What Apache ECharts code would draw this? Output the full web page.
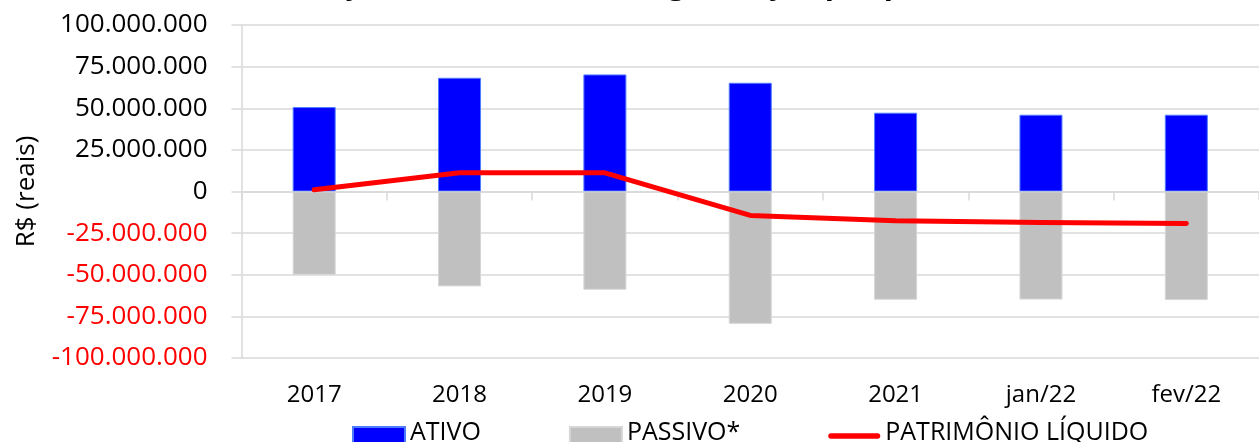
<!DOCTYPE html>
<html>
<head>
<meta charset="utf-8">
<script src="https://cdn.jsdelivr.net/npm/echarts@6/dist/echarts.min.js"></script>
<style>
html,body{margin:0;padding:0;background:#fff;}
#chart{width:1259px;height:442px;}
</style>
</head>
<body>
<div id="chart"></div>
<script>
const categories = ['2017', '2018', '2019', '2020', '2021', 'jan/22', 'fev/22'];
const ativo = [50700000, 68300000, 70300000, 65300000, 47300000, 46100000, 46100000];
const passivo = [-50000000, -57000000, -59000000, -79500000, -65000000, -64900000, -65200000];
const patrimonio = [1000000, 11200000, 11200000, -14400000, -17600000, -18600000, -19200000];
const titleText = 'Evolução Patrimonial da Organização por período';
const yMin = -100000000, yMax = 100000000, yStep = 25000000;

const FONT = '"Open Sans", sans-serif';
const GRID = '#d9d9d9';

function fmt(v) {
  const s = Math.abs(v).toString().replace(/\B(?=(\d{3})+(?!\d))/g, '.');
  return (v < 0 ? '-' : '') + s;
}

const chart = echarts.init(document.getElementById('chart'), null, {renderer: 'canvas'});
chart.setOption({
  animation: false,
  backgroundColor: '#fff',
  textStyle: {fontFamily: FONT},
  title: {
    text: titleText,
    left: 'center',
    top: -35,
    textStyle: {fontFamily: FONT, fontSize: 30, fontWeight: 'bold', color: '#000'}
  },
  grid: {left: 241.5, right: -11, top: 25, bottom: 84, containLabel: false},
  legend: {
    left: 352,
    top: 420,
    padding: 0,
    itemWidth: 52,
    itemHeight: 18,
    itemGap: 88,
    formatter: '{t|{name}}',
    textStyle: {
      fontFamily: FONT, fontSize: 25, color: '#000',
      rich: {t: {fontFamily: FONT, fontSize: 25, color: '#000', padding: [0, 0, 7, 0]}}
    },
    data: [
      {name: 'ATIVO', icon: 'rect'},
      {name: 'PASSIVO*', icon: 'rect'},
      {name: 'PATRIMÔNIO LÍQUIDO', icon: 'path://M3,0 H54 A3,3 0 0 1 54,6 H3 A3,3 0 0 1 3,0 Z'}
    ]
  },
  xAxis: [
    {
      type: 'category',
      data: categories,
      position: 'bottom',
      axisLine: {show: false, onZero: false},
      axisTick: {show: false},
      axisLabel: {fontFamily: FONT, fontSize: 24, color: '#000', margin: 25},
      splitLine: {show: false}
    },
    {
      type: 'category',
      data: categories,
      position: 'bottom',
      axisLine: {show: true, onZero: true, lineStyle: {color: GRID, width: 1.5}},
      axisTick: {show: true, length: 9, lineStyle: {color: GRID, width: 1.5}},
      axisLabel: {show: false},
      splitLine: {show: false}
    }
  ],
  yAxis: {
    type: 'value',
    min: yMin,
    max: yMax,
    interval: yStep,
    name: 'R$ (reais)',
    nameLocation: 'middle',
    nameRotate: 90,
    nameGap: 202,
    nameTextStyle: {fontFamily: FONT, fontSize: 26, color: '#000'},
    axisLine: {show: true, lineStyle: {color: GRID, width: 1.5}},
    axisTick: {show: true, length: 10, lineStyle: {color: GRID, width: 1.5}},
    axisLabel: {
      fontFamily: FONT, fontSize: 26, margin: 34,
      formatter: v => fmt(v),
      color: v => (Number(v) < 0 ? '#ff0000' : '#000')
    },
    splitLine: {show: true, lineStyle: {color: GRID, width: 1.5}}
  },
  series: [
    {
      name: 'ATIVO', type: 'bar', stack: 'bal', xAxisIndex: 0, barWidth: 43,
      data: ativo,
      itemStyle: {color: '#0000ff', borderColor: '#4f7bff', borderWidth: 1}
    },
    {
      name: 'PASSIVO*', type: 'bar', stack: 'bal', xAxisIndex: 0, barWidth: 43,
      data: passivo,
      itemStyle: {color: '#c0c0c0', borderColor: '#d6d6d6', borderWidth: 1}
    },
    {
      name: 'PATRIMÔNIO LÍQUIDO', type: 'line', xAxisIndex: 0,
      data: patrimonio,
      symbol: 'none', z: 5,
      itemStyle: {color: '#ff0000'},
      lineStyle: {color: '#ff0000', width: 5, cap: 'round', join: 'round'}
    }
  ]
});
</script>
</body>
</html>
